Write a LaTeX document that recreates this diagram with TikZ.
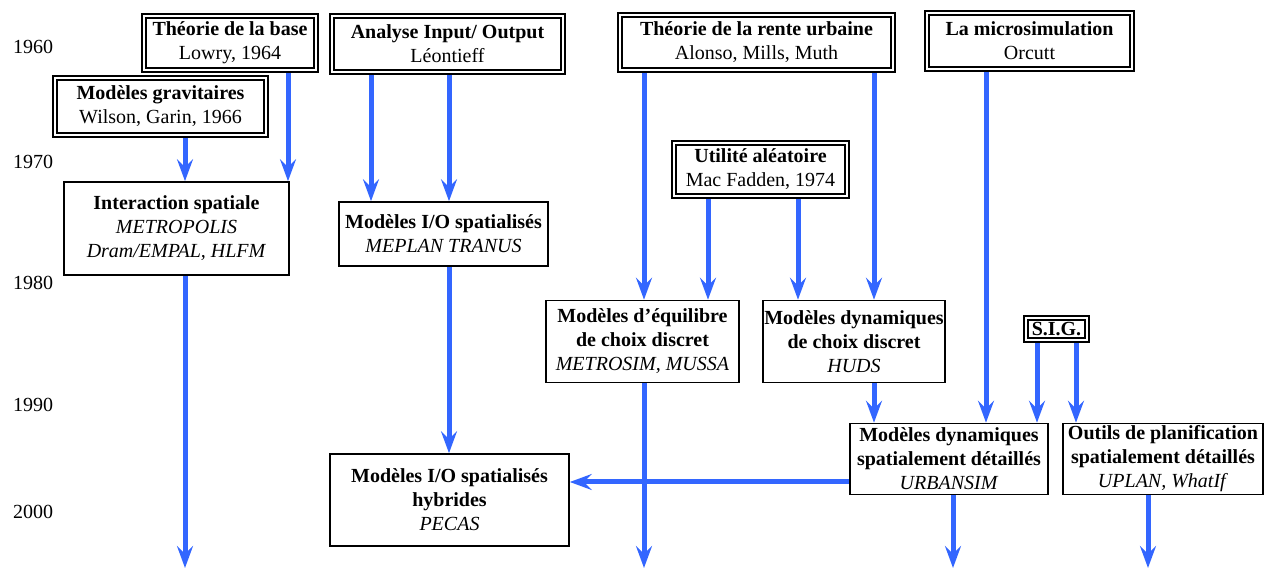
\documentclass[tikz,border=0pt]{standalone}
\usepackage{fontspec}
\setmainfont{Liberation Serif}
\usetikzlibrary{arrows.meta}
\definecolor{arrblue}{RGB}{51,102,255}
\pgfdeclarelayer{bg}
\pgfsetlayers{bg,main}
\begin{document}
\begin{tikzpicture}[x=0.5pt,y=-0.5pt,
  font=\fontsize{10}{12}\selectfont,
  box/.style={draw=black, line width=0.8pt, fill=white, align=center, inner sep=0pt},
  dbox/.style={draw=black, line width=1pt, double, double distance=1pt, fill=white, align=center, inner sep=0pt},
  arr/.style={draw=arrblue, line width=2.5pt, -{Stealth[length=11pt,width=8pt,inset=4pt]}},
  yr/.style={inner sep=0pt}]
\useasboundingbox (0,0) rectangle (1265,571);
% years
\node[yr] (y1960) at (33,47) {1960};
\node[yr] (y1970) at (33,162) {1970};
\node[yr] (y1980) at (33,283) {1980};
\node[yr] (y1990) at (33,405) {1990};
\node[yr] (y2000) at (33,512) {2000};
% double boxes
\node[dbox, minimum width=86pt, minimum height=27pt] (tb) at (230,43) {\textbf{Théorie de la base}\\Lowry, 1964};
\node[dbox, minimum width=105.5pt, minimum height=28.5pt] (grav) at (160.5,106.5) {\textbf{Modèles gravitaires}\\Wilson, Garin, 1966};
\node[dbox, minimum width=115.5pt, minimum height=28pt] (an) at (447.5,44) {\textbf{Analyse Input/ Output}\\Léontieff};
\node[dbox, minimum width=136.5pt, minimum height=27.5pt] (rente) at (756.5,42.5) {\textbf{Théorie de la rente urbaine}\\Alonso, Mills, Muth};
\node[dbox, minimum width=102.5pt, minimum height=28pt] (micro) at (1029.5,41) {\textbf{La microsimulation}\\Orcutt};
\node[dbox, minimum width=86.5pt, minimum height=26.5pt] (util) at (760.5,169.5) {\textbf{Utilité aléatoire}\\Mac Fadden, 1974};
\node[dbox, minimum width=30.5pt, minimum height=11pt] (sig) at (1056.5,329.5) {\textbf{S.I.G.}};
% single boxes
\node[box, minimum width=112.5pt, minimum height=46.5pt] (inter) at (176.5,228.5) {\textbf{Interaction spatiale}\\\textit{METROPOLIS}\\\textit{Dram/EMPAL, HLFM}};
\node[box, minimum width=104.5pt, minimum height=32pt] (io) at (443.5,234) {\textbf{Modèles I/O spatialisés}\\\textit{MEPLAN TRANUS}};
\node[box, minimum width=96.5pt, minimum height=41pt] (equi) at (642.5,341.5) {\textbf{Modèles d’équilibre}\\\textbf{de choix discret}\\\textit{METROSIM, MUSSA}};
\node[box, minimum width=91pt, minimum height=41pt] (dyn) at (854,341.5) {\textbf{Modèles dynamiques}\\\textbf{de choix discret}\\\textit{HUDS}};
\node[box, minimum width=99pt, minimum height=35.5pt] (urb) at (949,459) {\textbf{Modèles dynamiques}\\\textbf{spatialement détaillés}\\\textit{URBANSIM}};
\node[box, minimum width=100pt, minimum height=35.5pt] (outil) at (1163,459) {\textbf{Outils de planification}\\\textbf{spatialement détaillés}\\\textit{UPLAN, WhatIf}};
\node[box, minimum width=119.5pt, minimum height=46pt] (hyb) at (449.5,500) {\textbf{Modèles I/O spatialisés}\\\textbf{hybrides}\\\textit{PECAS}};
% free ends
\coordinate (e1) at (185,568);
\coordinate (e2) at (644,568);
\coordinate (e3) at (953,568);
\coordinate (e4) at (1148,568);
\begin{pgfonlayer}{bg}
\draw[arr] (tb.south -| 288,0) -- (inter.north -| 288,0);
\draw[arr] (grav.south -| 185,0) -- (inter.north -| 185,0);
\draw[arr] (an.south -| 371,0) -- (io.north -| 371,0);
\draw[arr] (an.south -| 449,0) -- (io.north -| 449,0);
\draw[arr] (rente.south -| 644,0) -- (equi.north -| 644,0);
\draw[arr] (rente.south -| 874,0) -- (dyn.north -| 874,0);
\draw[arr] (util.south -| 708,0) -- (equi.north -| 708,0);
\draw[arr] (util.south -| 798,0) -- (dyn.north -| 798,0);
\draw[arr] (micro.south -| 986,0) -- (urb.north -| 986,0);
\draw[arr] (sig.south -| 1037,0) -- (urb.north -| 1037,0);
\draw[arr] (sig.south -| 1076,0) -- (outil.north -| 1076,0);
\draw[arr] (dyn.south -| 874,0) -- (urb.north -| 874,0);
\draw[arr] (io.south -| 449,0) -- (hyb.north -| 449,0);
\draw[arr] (inter.south -| 185,0) -- (e1);
\draw[arr] (equi.south -| 644,0) -- (e2);
\draw[arr] (urb.south -| 953,0) -- (e3);
\draw[arr] (outil.south -| 1148,0) -- (e4);
\draw[arr] (urb.west |- 0,482) -- (hyb.east |- 0,482);
\end{pgfonlayer}
\end{tikzpicture}
\end{document}
